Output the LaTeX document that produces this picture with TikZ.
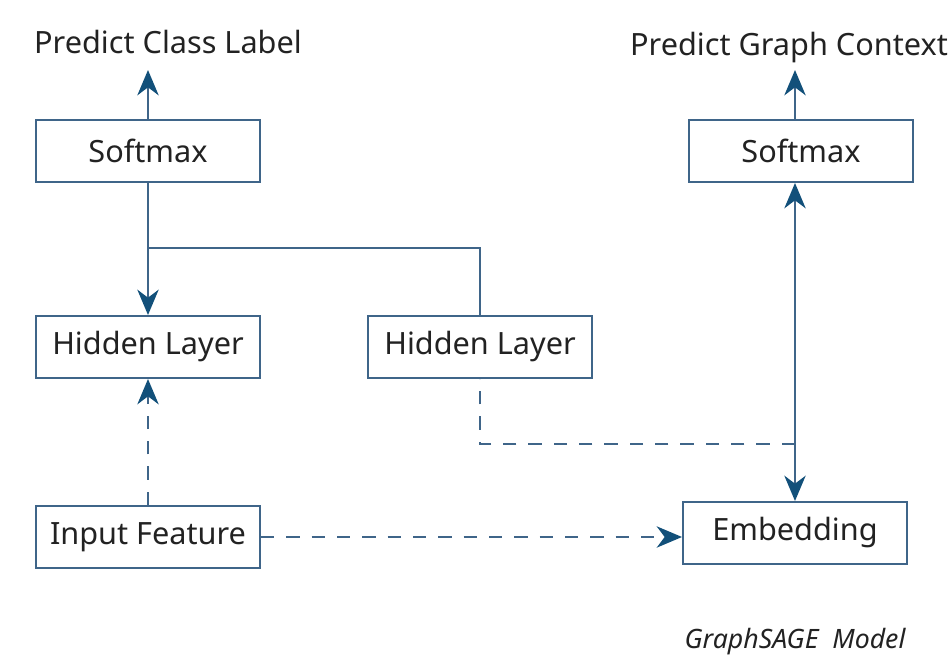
\documentclass[tikz,border=0pt]{standalone}
\usepackage{fontspec}
\setmainfont{Noto Sans}
\usepackage{tikz}
\usetikzlibrary{arrows.meta}
\usepackage{xcolor}

\definecolor{boxline}{HTML}{3F6589}
\definecolor{tipblue}{HTML}{12507A}
\definecolor{txt}{HTML}{222222}

\begin{document}
\begin{tikzpicture}[x=0.75pt,y=-0.75pt,
        font=\fontsize{23pt}{26pt}\selectfont, text=txt,
        layer/.style={draw=boxline, line width=1.5pt, minimum width=168pt, minimum height=46.5pt, inner sep=0pt},
        link/.style={draw=boxline, line width=1.5pt},
        tip/.tip={Stealth[length=19pt,width=16pt,inset=6pt,color=tipblue]},
        arr/.style={link, -tip},
        dsh/.style={dash pattern=on 10pt off 9pt}]
        \useasboundingbox (0,0) rectangle (949,663);

        % left column
        \node (clsL) at (168,42) {Predict Class Label};
        \node[layer] (smL) at (148,151) {Softmax};
        \node[layer] (hidL) at (148,347) {Hidden Layer};
        \node[layer] (inp) at (148,537) {Input Feature};

        % middle and right
        \node[layer] (hidM) at (480,347) {Hidden Layer};
        \node[inner sep=0pt] (ctxR) at (789,48) {Predict Graph Context};
        \node[layer] (smR) at (801,151) {Softmax};
        \node[layer] (emb) at (795,533) {Embedding};
        \node[font=\itshape\fontsize{20pt}{23pt}\selectfont] (mdl) at (795,642) {GraphSAGE\ \ Model};

        \coordinate (topL) at (148,70);
        \coordinate (topR) at (795,70);
        \coordinate (split) at (148,248);
        \coordinate (joint) at (795,444);

        % solid links
        \draw[arr] (smL.north) -- (topL);
        \draw[arr] (smR.north -| topR) -- (topR);
        \draw[arr] (smL.south) -- (hidL.north);
        \draw[link] (split) -| (hidM.north);
        \draw[link, tip-tip] (emb.north) -- (emb.north |- smR.south);

        % dashed links
        \draw[arr, dsh] (inp.north) -- (hidL.south);
        \draw[arr, dsh] (inp.east) -- (inp.east -| emb.west);
        \draw[link, dsh] (joint) -| (hidM.south);
\end{tikzpicture}
\end{document}
